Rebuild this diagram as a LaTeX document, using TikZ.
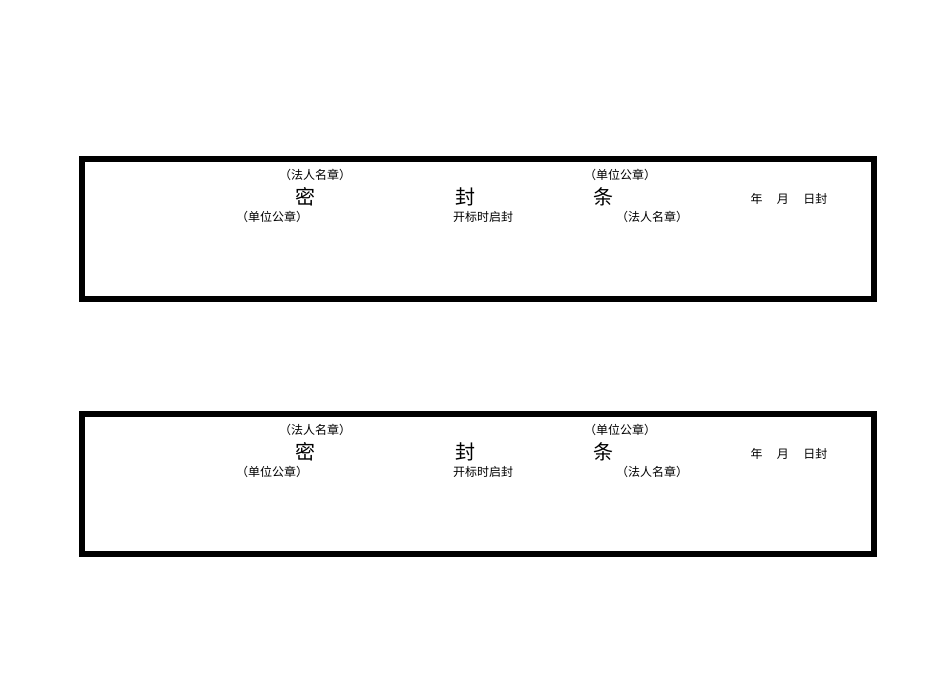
\documentclass[tikz,border=0pt]{standalone}
\usepackage{fontspec}
\newfontfamily\cjk{Noto Sans CJK SC}
\begin{document}
\begin{tikzpicture}[x=1pt,y=-1pt,
  frame/.style={draw=black,line width=6pt},
  small/.style={font=\cjk\fontsize{12}{12}\selectfont,inner sep=0pt},
  big/.style={font=\cjk\fontsize{20}{20}\selectfont,inner sep=0pt}]
\useasboundingbox (0,0) rectangle (950,672);
\foreach \o/\n in {0/a,255/b}{
  \draw[frame] (82,159+\o) rectangle (874,299+\o);
  \node[small] (\n1) at (315,175+\o) {（法人名章）};
  \node[big]   (\n2) at (305,197+\o) {密};
  \node[small] (\n3) at (272,217+\o) {（单位公章）};
  \node[big]   (\n4) at (465,197+\o) {封};
  \node[small] (\n5) at (483,217+\o) {开标时启封};
  \node[small] (\n6) at (620,175+\o) {（单位公章）};
  \node[big]   (\n7) at (603,197+\o) {条};
  \node[small] (\n8) at (652,217+\o) {（法人名章）};
  \node[small] (\n9) at (789,199+\o) {年\hspace{1.2em}月\hspace{1.2em}日封};
}
\end{tikzpicture}
\end{document}
